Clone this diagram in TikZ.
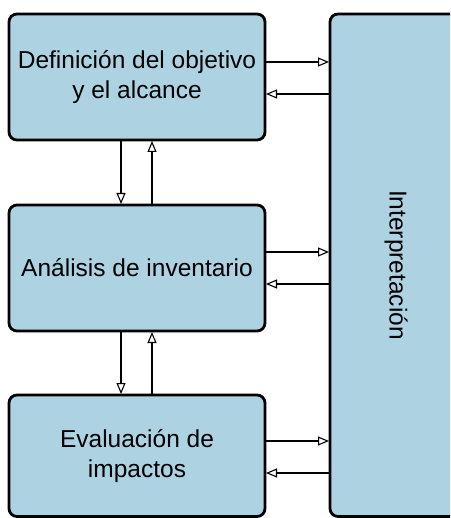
\documentclass[tikz,border=0pt]{standalone}
\usepackage{fontspec}
\setmainfont{Liberation Sans}
\usetikzlibrary{arrows.meta}
\definecolor{boxfill}{HTML}{ADD3E3}
\begin{document}
\begin{tikzpicture}[x=1pt,y=-1pt,
  phase/.style={draw=black, line width=2.8pt, rounded corners=8pt, fill=boxfill},
  lbl/.style={font=\fontsize{24.5}{30}\selectfont, align=center},
  link/.style={draw=black, line width=1.1pt, -{Triangle[open,fill=white,length=11pt,width=9pt]}}]
\useasboundingbox (0,0) rectangle (450,518);
\begin{scope}
\clip (0,0) rectangle (450,518);
\draw[phase] (9,14) rectangle (265,140);
\draw[phase] (9,205) rectangle (265,331);
\draw[phase] (9,395) rectangle (265,516.5);
\draw[phase] (330,14) rectangle (470,516.5);
\end{scope}
\node[lbl] (def) at (137,77) {Definición del objetivo\\y el alcance};
\node[lbl] (inv) at (137,268) {Análisis de inventario};
\node[lbl] (eva) at (137,456) {Evaluación de\\impactos};
\node[lbl, rotate=-90] (int) at (396,265) {Interpretación};
\coordinate (d1a) at (266,62); \coordinate (i1a) at (329,62);
\coordinate (d1b) at (266,94); \coordinate (i1b) at (329,94);
\coordinate (d2a) at (266,252); \coordinate (i2a) at (329,252);
\coordinate (d2b) at (266,284); \coordinate (i2b) at (329,284);
\coordinate (d3a) at (266,441); \coordinate (i3a) at (329,441);
\coordinate (d3b) at (266,473); \coordinate (i3b) at (329,473);
\draw[link] (d1a) -- (i1a);
\draw[link] (i1b) -- (d1b);
\draw[link] (d2a) -- (i2a);
\draw[link] (i2b) -- (d2b);
\draw[link] (d3a) -- (i3a);
\draw[link] (i3b) -- (d3b);
\coordinate (v1t) at (121,141); \coordinate (v1b) at (121,204);
\coordinate (u1t) at (152,141); \coordinate (u1b) at (152,204);
\coordinate (v2t) at (121,332); \coordinate (v2b) at (121,394);
\coordinate (u2t) at (152,332); \coordinate (u2b) at (152,394);
\draw[link] (v1t) -- (v1b);
\draw[link] (u1b) -- (u1t);
\draw[link] (v2t) -- (v2b);
\draw[link] (u2b) -- (u2t);
\end{tikzpicture}
\end{document}
